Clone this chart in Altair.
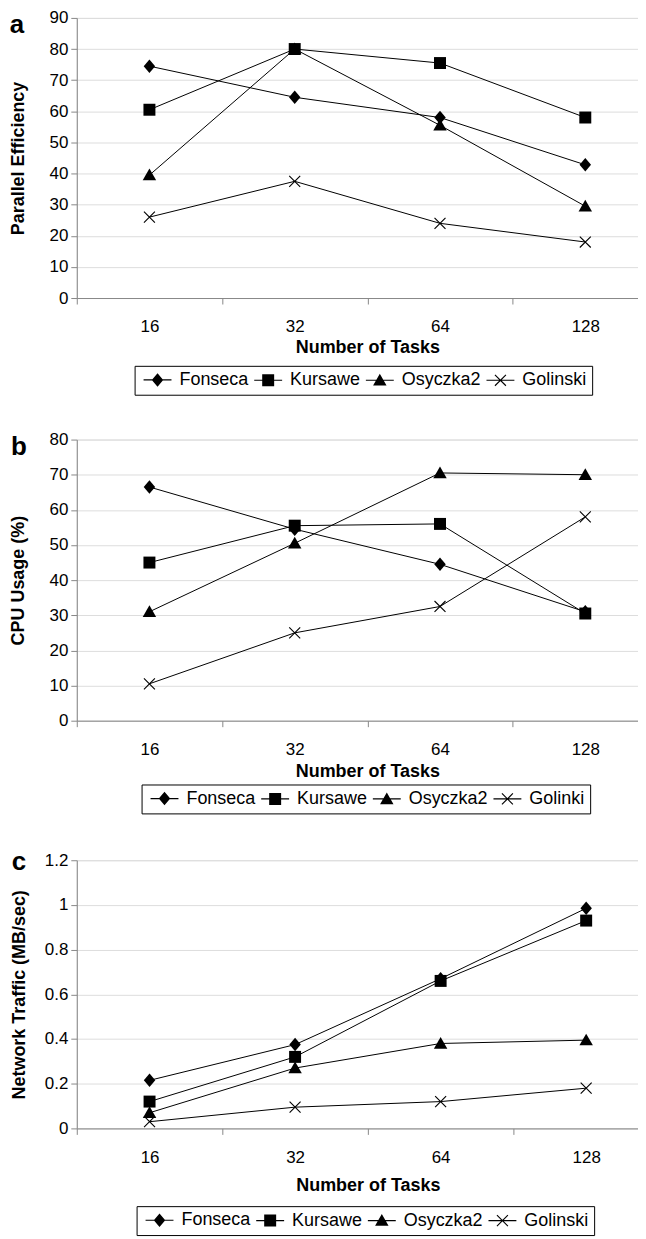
import altair as alt
import pandas as pd

tasks = ["16", "32", "64", "128"]
series_ac = ["Fonseca", "Kursawe", "Osyczka2", "Golinski"]
series_b = ["Fonseca", "Kursawe", "Osyczka2", "Golinki"]

# Panel a: Parallel Efficiency
eff_fonseca = [74.5, 64.5, 58.0, 42.8]
eff_kursawe = [60.5, 80.0, 75.5, 58.0]
eff_osyczka2 = [39.5, 80.0, 55.5, 29.5]
eff_golinski = [26.0, 37.5, 24.0, 18.0]

# Panel b: CPU Usage (%)
cpu_fonseca = [66.5, 54.5, 44.5, 31.0]
cpu_kursawe = [45.0, 55.5, 56.0, 30.5]
cpu_osyczka2 = [31.0, 50.5, 70.5, 70.0]
cpu_golinki = [10.5, 25.0, 32.5, 58.0]

# Panel c: Network Traffic (MB/sec)
net_fonseca = [0.215, 0.375, 0.67, 0.985]
net_kursawe = [0.12, 0.32, 0.66, 0.93]
net_osyczka2 = [0.07, 0.27, 0.38, 0.395]
net_golinski = [0.03, 0.095, 0.12, 0.18]

FONT = "Liberation Sans"

# filled-only marker outlines (clockwise so overlapping parts stay filled)
X_PATH = ("M-1.02,-1.18L1.18,1.02L1.02,1.18L-1.18,-1.02Z"
          "M-1.02,1.18L-1.18,1.02L1.02,-1.18L1.18,-1.02Z")
point_paths = [
    "M0,-1.35L1.15,0L0,1.35L-1.15,0Z",
    "M-1.2,-1.2H1.2V1.2H-1.2Z",
    "M0,-1.3L1.35,1.05L-1.35,1.05Z",
    X_PATH,
]
LINE_PATH = "M-2.8,-0.12H2.8V0.12H-2.8Z"
legend_paths = [LINE_PATH + p for p in point_paths]


def make_df(series, arrays):
    rows = []
    for name, vals in zip(series, arrays):
        for i, (t, v) in enumerate(zip(tasks, vals)):
            rows.append({"tasks": t, "idx": i, "series": name, "value": v})
    return pd.DataFrame(rows)


def panel(df, series, ymax, yvals, yfmt, ytitle, label, width, height,
          ytitle_pad, xtitle_pad, legend_x, legend_y, label_x, label_y):
    x = alt.X("tasks:N", sort=tasks, bandPosition=0.5,
              scale=alt.Scale(type="band", paddingInner=0, paddingOuter=0),
              axis=alt.Axis(title="Number of Tasks", tickBand="extent", labelAngle=0,
                            tickSize=6, labelPadding=15, grid=False,
                            labelFontSize=17, titleFontSize=18, titleFontWeight="bold",
                            titlePadding=xtitle_pad))
    y = alt.Y("value:Q", scale=alt.Scale(domain=[0, ymax], nice=False, zero=True),
              axis=alt.Axis(title=ytitle, values=yvals, format=yfmt, tickSize=6,
                            labelPadding=3, labelFontSize=17, titleFontSize=18,
                            titleFontWeight="bold", titlePadding=ytitle_pad, grid=True))
    base = alt.Chart(df).encode(x=x, y=y)
    lines = base.mark_line(color="black", strokeWidth=1).encode(
        detail="series:N", order=alt.Order("idx:Q"))
    points = base.mark_point(filled=True, fill="black", size=100, opacity=1).encode(
        shape=alt.Shape("series:N", scale=alt.Scale(domain=series, range=point_paths),
                        legend=None))
    leg = base.transform_filter("false").mark_point(
        filled=True, fill="black", size=100, opacity=1).encode(
        shape=alt.Shape("series:N", scale=alt.Scale(domain=series, range=legend_paths),
                        legend=alt.Legend(title=None, orient="none", legendX=legend_x,
                                          legendY=legend_y, direction="horizontal",
                                          labelFontSize=18, labelFont=FONT,
                                          labelColor="black", symbolSize=100,
                                          symbolFillColor="black", symbolOpacity=1,
                                          symbolOffset=9, labelOffset=13,
                                          columnPadding=1, padding=5,
                                          strokeColor="black", fillColor="white")))
    lab = alt.Chart(pd.DataFrame({"t": [label]})).mark_text(
        fontSize=26, fontWeight="bold", font=FONT, align="center",
        baseline="alphabetic", color="black").encode(
        text="t:N", x=alt.value(label_x), y=alt.value(label_y))
    return alt.layer(lines, points, leg, lab).resolve_scale(shape="independent").properties(
        width=width, height=height)


df_a = make_df(series_ac, [eff_fonseca, eff_kursawe, eff_osyczka2, eff_golinski])
df_b = make_df(series_b, [cpu_fonseca, cpu_kursawe, cpu_osyczka2, cpu_golinki])
df_c = make_df(series_ac, [net_fonseca, net_kursawe, net_osyczka2, net_golinski])

pa = panel(df_a, series_ac, 90, list(range(0, 91, 10)), "d", "Parallel Efficiency", "a",
           583, 281, 22, 4, 58, 349, -60, 15)
pb = panel(df_b, series_b, 80, list(range(0, 81, 10)), "d", "CPU Usage (%)", "b",
           583, 282, 22, 5, 65, 346, -58, 15)
pc = panel(df_c, series_ac, 1.2, [0, 0.2, 0.4, 0.6, 0.8, 1.0, 1.2], "~g",
           "Network Traffic (MB/sec)", "c", 584, 269, 16, 11, 60, 347, -58, 10)

chart = alt.vconcat(pa, pb, pc, spacing=34).resolve_scale(
    shape="independent"
).configure_view(
    stroke="black", strokeWidth=2
).configure_axis(
    labelFont=FONT, titleFont=FONT, labelColor="black", titleColor="black",
    domainColor="black", domainWidth=2, tickColor="black", tickWidth=2,
    gridColor="#333333", gridWidth=1
).configure_legend(
    strokeWidth=2
).configure(padding={"left": 0, "top": -2, "right": -22, "bottom": 0})

chart.save("out.html", embed_options={"renderer": "svg", "actions": False})
